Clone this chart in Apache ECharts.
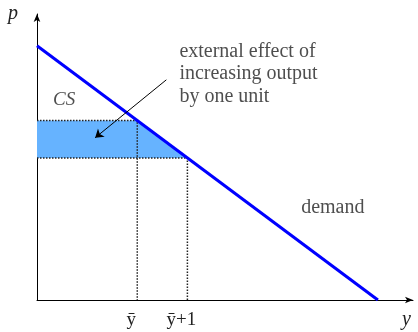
<!DOCTYPE html>
<html>
<head>
<meta charset="utf-8">
<script src="https://cdn.jsdelivr.net/npm/echarts@6/dist/echarts.min.js"></script>
<style>
html,body{margin:0;padding:0;background:#fff;}
#chart{width:418px;height:332px;}
</style>
</head>
<body>
<div id="chart"></div>
<script>
// 需求曲线 p = 6.8 - y
var demandLine = [[0, 6.8], [6.8, 0]];
// 外部效应区域 (ȳ 到 ȳ+1 的价格带)
var effectArea = [[0, 4.8], [2, 4.8], [3, 3.8], [0, 3.8]];
var guideTop = [[0, 4.8], [2, 4.8], [2, 0]];
var guideBottom = [[0, 3.8], [3, 3.8], [3, 0]];
var arrowFrom = [2.58, 5.89];
var arrowTo = [1.16, 4.34];
var xTickLabels = {2: 'ȳ', 3: 'ȳ+1'};
var notes = [
	{value: [2.84, 6.05], text: 'external effect of\nincreasing output\nby one unit', align: 'left', italic: false},
	{value: [0.54, 5.35], text: 'CS', align: 'center', italic: true},
	{value: [5.90, 2.46], text: 'demand', align: 'center', italic: false}
];

var serif = "'Liberation Serif', 'Times New Roman', serif";
var chart = echarts.init(document.getElementById('chart'));

var option = {
	animation: false,
	backgroundColor: '#fff',
	grid: {left: 37, right: 5, top: 14, bottom: 32},
	xAxis: {
		type: 'value',
		min: 0,
		max: 7.5,
		interval: 1,
		name: 'y',
		nameLocation: 'end',
		nameGap: 0,
		nameTextStyle: {
			fontFamily: serif, fontStyle: 'italic', fontSize: 20, color: '#222',
			align: 'right', verticalAlign: 'top', padding: [10, 2, 0, 0]
		},
		axisLine: {
			show: true,
			lineStyle: {color: '#000', width: 1},
			symbol: ['none', 'arrow'],
			symbolSize: [5, 8]
		},
		axisTick: {show: false},
		splitLine: {show: false},
		axisLabel: {
			margin: 11,
			fontFamily: serif,
			fontSize: 19,
			color: '#222',
			padding: [0, 12, 0, 0],
			showMaxLabel: false,
			formatter: function(v){
				return xTickLabels[v] || '';
			}
		}
	},
	yAxis: {
		type: 'value',
		min: 0,
		max: 7.65,
		name: 'p',
		nameLocation: 'end',
		nameGap: 0,
		nameTextStyle: {
			fontFamily: serif, fontStyle: 'italic', fontSize: 20, color: '#222',
			align: 'right', verticalAlign: 'middle', padding: [0, 19, 0, 0]
		},
		axisLine: {
			show: true,
			lineStyle: {color: '#000', width: 1},
			symbol: ['none', 'arrow'],
			symbolSize: [5, 8]
		},
		axisTick: {show: false},
		axisLabel: {show: false},
		splitLine: {show: false}
	},
	series: [
		{
			name: 'effect',
			type: 'custom',
			z: 1,
			silent: true,
			data: [0],
			renderItem: function(params, api){
				var pts = effectArea.map(function(p){ return api.coord(p); });
				return {type: 'polygon', shape: {points: pts}, style: {fill: '#66b3ff'}};
			}
		},
		{
			type: 'line', z: 2, silent: true, symbol: 'none',
			data: guideTop,
			lineStyle: {color: '#222', width: 1.5, type: [1.5, 1.5]}
		},
		{
			type: 'line', z: 2, silent: true, symbol: 'none',
			data: guideBottom,
			lineStyle: {color: '#222', width: 1.5, type: [1.5, 1.5]}
		},
		{
			name: 'demand',
			type: 'line', z: 3, silent: true, symbol: 'none',
			data: demandLine,
			lineStyle: {color: '#0000ff', width: 3}
		},
		{
			type: 'lines',
			coordinateSystem: 'cartesian2d',
			z: 4,
			silent: true,
			symbol: ['none', 'arrow'],
			symbolSize: 8,
			lineStyle: {color: '#000', width: 1, opacity: 1},
			data: [{coords: [arrowFrom, arrowTo]}]
		},
		{
			type: 'scatter',
			z: 5,
			silent: true,
			symbolSize: 0,
			data: notes.map(function(n){
				return {
					value: n.value,
					label: {
						show: true,
						position: 'inside',
						formatter: n.text,
						align: n.align,
						verticalAlign: 'middle',
						fontFamily: serif,
						fontStyle: n.italic ? 'italic' : 'normal',
						fontSize: n.italic ? 19 : 20,
						lineHeight: 22.5,
						color: '#222'
					}
				};
			})
		}
	]
};
chart.setOption(option);
</script>
</body>
</html>
